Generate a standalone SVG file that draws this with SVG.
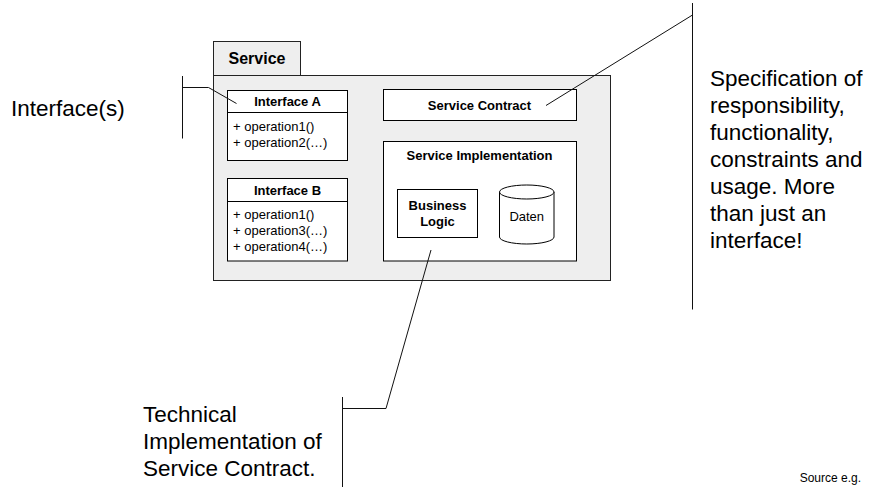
<svg xmlns="http://www.w3.org/2000/svg" width="870" height="487" viewBox="0 0 870 487">
<style>
text{font-family:"Liberation Sans",Arial,Helvetica,sans-serif;fill:#000}
.b{font-weight:bold;font-size:13px;text-anchor:middle}
.r{font-size:13px}
.big{font-size:22.5px}
.box{fill:#fff;stroke:#000;stroke-width:1}
.grey{fill:#eeeeee;stroke:#222;stroke-width:1}
.lead{fill:none;stroke:#111;stroke-width:1}
</style>
<rect width="870" height="487" fill="#fff"/>
<g id="service">
<rect class="grey" x="213.5" y="41.5" width="87" height="34"/>
<rect class="grey" x="213.5" y="75.5" width="397" height="205"/>
<text x="257" y="63.5" style="font-weight:bold;font-size:16px;text-anchor:middle">Service</text>
</g>
<g id="interfaceA">
<rect class="box" x="227.5" y="90.5" width="120" height="70"/>
<line x1="227.5" y1="112.5" x2="347.5" y2="112.5" stroke="#000"/>
<text class="b" x="287.5" y="105.5">Interface A</text>
<text class="r" x="233" y="130.5">+ operation1()</text>
<text class="r" x="233" y="146.5">+ operation2(…)</text>
</g>
<g id="interfaceB">
<rect class="box" x="227.5" y="178.5" width="120" height="82.5"/>
<line x1="227.5" y1="201.5" x2="347.5" y2="201.5" stroke="#000"/>
<text class="b" x="287.5" y="194.5">Interface B</text>
<text class="r" x="233" y="219">+ operation1()</text>
<text class="r" x="233" y="235">+ operation3(…)</text>
<text class="r" x="233" y="251">+ operation4(…)</text>
</g>
<g id="serviceContract">
<rect class="box" x="383.5" y="89.5" width="193" height="31"/>
<text class="b" x="479.5" y="109.5">Service Contract</text>
</g>
<g id="serviceImplementation">
<rect class="box" x="383.5" y="141.5" width="193" height="119.5"/>
<text class="b" x="479.5" y="160">Service Implementation</text>
</g>
<g id="businessLogic">
<rect class="box" x="397.5" y="189.5" width="80" height="48"/>
<text class="b" x="437.5" y="210">Business</text>
<text class="b" x="437.5" y="226">Logic</text>
</g>
<g id="daten">
<path class="box" d="M499.5,192 V237 A27.25,7 0 0 0 554,237 V192"/>
<ellipse class="box" cx="526.75" cy="192" rx="27.25" ry="7"/>
<text x="526.75" y="221" style="font-size:13px;text-anchor:middle">Daten</text>
</g>
<g id="connectors">
<polyline class="lead" points="182.5,76 182.5,138.5"/>
<polyline class="lead" points="182.5,87.5 208.5,87.5 236.5,103.5"/>
<polyline class="lead" points="692.5,3 692.5,309.5"/>
<polyline class="lead" points="692.5,15 546,105.5"/>
<polyline class="lead" points="342.5,397 342.5,487"/>
<polyline class="lead" points="342.5,408.5 386,408.5 431,250"/>
</g>
<g id="labels">
<text class="big" x="11" y="116">Interface(s)</text>
<text class="big" x="710" y="86">Specification of</text>
<text class="big" x="710" y="113">responsibility,</text>
<text class="big" x="710" y="140">functionality,</text>
<text class="big" x="710" y="167">constraints and</text>
<text class="big" x="710" y="194">usage. More</text>
<text class="big" x="710" y="221">than just an</text>
<text class="big" x="710" y="248">interface!</text>
<text class="big" x="143" y="422">Technical</text>
<text class="big" x="143" y="449">Implementation of</text>
<text class="big" x="143" y="476">Service Contract.</text>
<text x="861" y="482" style="font-size:12px;text-anchor:end">Source e.g.</text>
</g>
</svg>
